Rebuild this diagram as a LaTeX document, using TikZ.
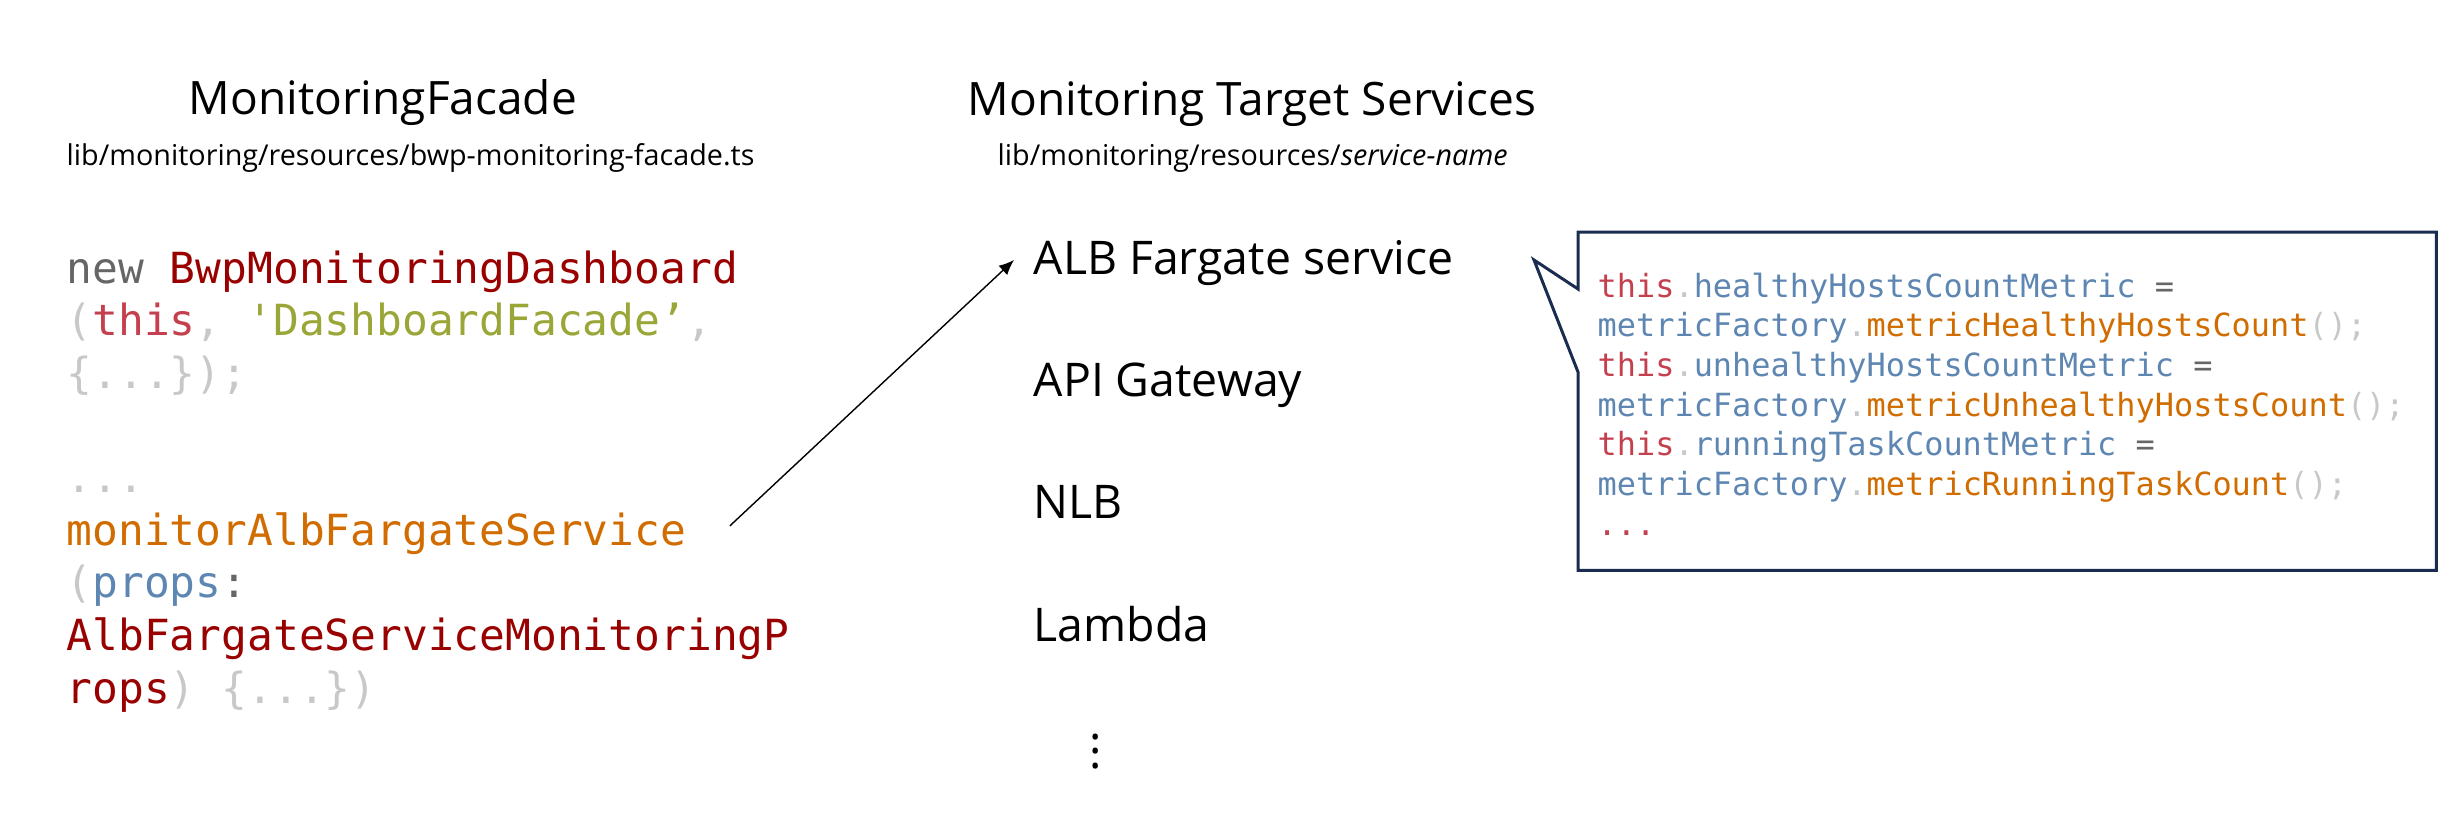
\documentclass[tikz,border=0pt]{standalone}
\usepackage{fontspec}
\setmainfont{Open Sans}
\setmonofont{DejaVu Sans Mono}
\usepackage{tikz}
\usetikzlibrary{arrows.meta, positioning, calc}
\definecolor{codepunct}{RGB}{200, 200, 200}
\definecolor{codedark}{RGB}{102, 102, 102}
\definecolor{codemaroon}{RGB}{153, 0, 0}
\definecolor{codered}{RGB}{196, 64, 78}
\definecolor{codeolive}{RGB}{155, 166, 56}
\definecolor{codeorange}{RGB}{208, 108, 0}
\definecolor{codeblue}{RGB}{94, 134, 178}
\definecolor{calloutnavy}{RGB}{26, 44, 80}
\newcommand{\cdThis}[1]{\textcolor{codered}{#1}}
\newcommand{\cdCls}[1]{\textcolor{codemaroon}{#1}}
\newcommand{\cdStr}[1]{\textcolor{codeolive}{#1}}
\newcommand{\cdFn}[1]{\textcolor{codeorange}{#1}}
\newcommand{\cdProp}[1]{\textcolor{codeblue}{#1}}
\newcommand{\cdPn}[1]{\textcolor{codepunct}{#1}}
\newcommand{\cdOp}[1]{\textcolor{codedark}{#1}}

\begin{document}
\begin{tikzpicture}[
    headline/.style={font=\fontsize{13.1pt}{15pt}\selectfont, inner sep=0pt, anchor=base west},
    pathtext/.style={font=\fontsize{8.17pt}{10pt}\selectfont, inner sep=0pt, anchor=base west},
    service/.style={font=\fontsize{13.2pt}{15pt}\selectfont, inner sep=0pt,
                    text height=0.36cm, text depth=0.12cm},
    codeL/.style={font=\ttfamily\fontsize{12.2pt}{14.6pt}\selectfont, inner sep=0pt,
                  text height=0.37cm, text depth=0.143cm},
    codeR/.style={font=\ttfamily\fontsize{9.08pt}{10.9pt}\selectfont, inner sep=0pt,
                  text height=0.28cm, text depth=0.103cm},
    nextline/.style={below=0pt of #1.south west, anchor=north west},
    nextitem/.style={below=0.73cm of #1.south west, anchor=north west},
    arrow/.style={-{Latex[length=4.3pt, width=3.6pt]}, line width=0.4pt, color=black},
    calloutline/.style={draw=calloutnavy, line width=0.85pt, line join=miter},
]
    \useasboundingbox (0,0) rectangle (24.62,-8.39);

    % Facade column
    \node[headline] (facadetitle) at (1.88,-1.14) {MonitoringFacade};
    \node[pathtext] (facadepath) at (0.66,-1.65) {lib/monitoring/resources/bwp-monitoring-facade.ts};

    \node[codeL, anchor=base west] (newdash) at (0.66,-2.83) {\cdOp{new} \cdCls{BwpMonitoringDashboard}};
    \node[codeL, nextline=newdash] (dashargs) {\cdPn{(}\cdThis{this}\cdPn{,} \cdStr{'DashboardFacade’}\cdPn{,}};
    \node[codeL, nextline=dashargs] (dashend) {\cdPn{\{...\});}};
    \node[codeL, below=0.513cm of dashend.south west, anchor=north west] (ellipsis) {\cdPn{...}};
    \node[codeL, nextline=ellipsis] (monitor) {\cdFn{monitorAlbFargateService}};
    \node[codeL, nextline=monitor] (propsarg) {\cdPn{(}\cdProp{props}\cdOp{:}};
    \node[codeL, nextline=propsarg] (propstype) {\cdCls{AlbFargateServiceMonitoringP}};
    \node[codeL, nextline=propstype] (propsend) {\cdCls{rops}\cdPn{)} \cdPn{\{...\})}};

    % Target services column
    \node[headline] (targettitle) at (9.67,-1.15) {Monitoring Target Services};
    \node[pathtext] (targetpath) at (9.97,-1.65) {lib/monitoring/resources/\textit{service-name}};

    \node[service, anchor=base west] (alb) at (10.33,-2.74) {ALB Fargate service};
    \node[service, nextitem=alb] (apigw) {API Gateway};
    \node[service, nextitem=apigw] (nlb) {NLB};
    \node[service, nextitem=nlb] (lambda) {Lambda};
    \node[font=\fontsize{13.2pt}{15pt}\selectfont, inner sep=0pt] (more) at (10.96,-7.41) {$\vdots$};

    % Call to the service
    \draw[arrow] ([shift={(0.43,0.08)}]monitor.east) -- ([shift={(-0.19,0.02)}]alb.west);

    % Callout with metric code
    \node[minimum width=8.57cm, minimum height=3.37cm, inner sep=0pt, anchor=north west] (callout) at (15.78,-2.32) {};
    \draw[calloutline] (callout.north west) -- (callout.north east) -- (callout.south east)
        -- (callout.south west) -- ($(callout.north west)+(0,-1.40)$)
        -- ($(callout.north west)+(-0.44,-0.28)$) -- ($(callout.north west)+(0,-0.57)$) -- cycle;

    \node[codeR, anchor=base west] (healthy) at ($(callout.north west)+(0.19,-0.65)$)
        {\cdThis{this}\cdPn{.}\cdProp{healthyHostsCountMetric} \cdOp{=}};
    \node[codeR, nextline=healthy] (healthycall)
        {\cdProp{metricFactory}\cdPn{.}\cdFn{metricHealthyHostsCount}\cdPn{();}};
    \node[codeR, nextline=healthycall] (unhealthy)
        {\cdThis{this}\cdPn{.}\cdProp{unhealthyHostsCountMetric} \cdOp{=}};
    \node[codeR, nextline=unhealthy] (unhealthycall)
        {\cdProp{metricFactory}\cdPn{.}\cdFn{metricUnhealthyHostsCount}\cdPn{();}};
    \node[codeR, nextline=unhealthycall] (running)
        {\cdThis{this}\cdPn{.}\cdProp{runningTaskCountMetric} \cdOp{=}};
    \node[codeR, nextline=running] (runningcall)
        {\cdProp{metricFactory}\cdPn{.}\cdFn{metricRunningTaskCount}\cdPn{();}};
    \node[codeR, nextline=runningcall] (metricmore) {\cdThis{...}};
\end{tikzpicture}
\end{document}
